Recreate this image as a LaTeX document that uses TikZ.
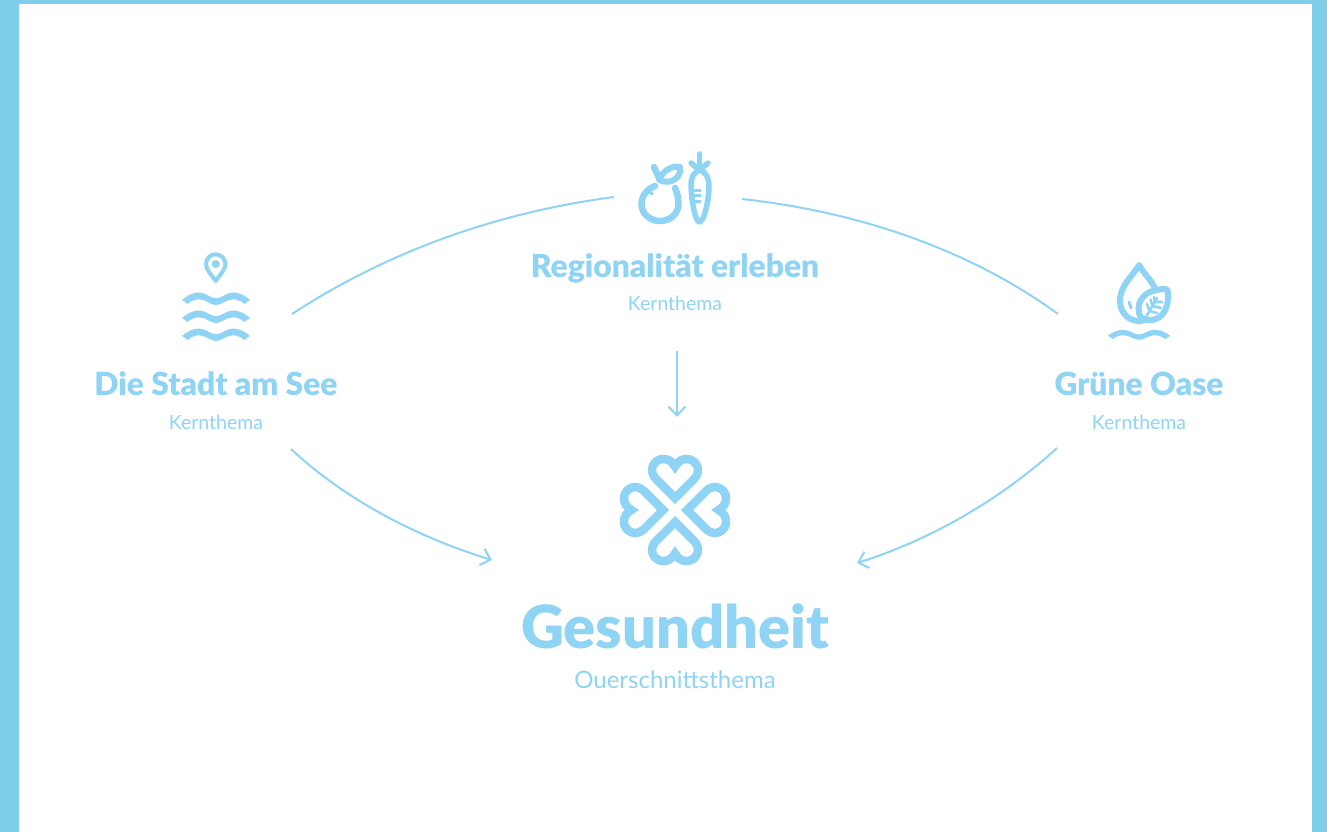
\documentclass[tikz,border=0pt]{standalone}
\usepackage{fontspec}
\usetikzlibrary{arrows.meta}
\setmainfont{Lato}
\newfontfamily\heavy{Lato Black}
\definecolor{frame}{HTML}{7FCEEC}
\definecolor{ink}{HTML}{8FD4F5}
\tikzset{
  title/.style={text=ink,font=\fontsize{31.8}{36}\selectfont\heavy,inner sep=0pt},
  bigtitle/.style={text=ink,font=\fontsize{59.5}{62}\selectfont\heavy,inner sep=0pt},
  sub/.style={text=ink,font=\fontsize{19.5}{22}\selectfont,inner sep=0pt},
  bigsub/.style={text=ink,font=\fontsize{24}{28}\selectfont,inner sep=0pt},
  conn/.style={draw=ink,line width=2pt},
  tip/.style={-{Straight Barb[length=9pt,width=17pt,line width=2pt]}},
  icon/.style={draw=ink,line cap=round,line join=round}
}
\newcommand{\heartpic}[1]{%
 \draw[draw=ink,line join=miter,miter limit=10,line width=8.5pt,shift={(675,510)},rotate=#1]
  (0,-12) -- (-19,-31) .. controls (-27.5,-39.5) and (-21,-51) .. (-12,-51)
  .. controls (-7,-51) and (-3,-49) .. (0,-43.5)
  .. controls (3,-49) and (7,-51) .. (12,-51)
  .. controls (21,-51) and (27.5,-39.5) .. (19,-31) -- cycle;}
\newcommand{\wave}[3]{%
 \fill[ink,shift={(#1,#2)},xscale=#3]
  (-34,1) .. controls (-28,-4) and (-23,-6.5) .. (-17,-6.5)
  .. controls (-10,-6.5) and (-6,-0.7) .. (0,-0.7)
  .. controls (6,-0.7) and (10,-6.5) .. (17,-6.5)
  .. controls (23,-6.5) and (28,-4) .. (34,1)
  .. controls (32,2) and (30,3.5) .. (28.5,5)
  .. controls (25,2) and (21,0.3) .. (17,0.3)
  .. controls (10,0.3) and (6,6) .. (0,6)
  .. controls (-6,6) and (-10,0.3) .. (-17,0.3)
  .. controls (-21,0.3) and (-25,2) .. (-28.5,5)
  .. controls (-30,3.5) and (-32,2) .. (-34,1) -- cycle;}
\begin{document}
\begin{tikzpicture}[x=1pt,y=-1pt]
\useasboundingbox (0,0) rectangle (1327,832);
\fill[frame] (0,0) rectangle (1327,832);
\fill[white] (19,4) rectangle (1312,832);
% named connector ends
\coordinate (tla) at (292,314); \coordinate (tlb) at (614,197);
\coordinate (tra) at (742,199); \coordinate (trb) at (1058,314);
\coordinate (bla) at (291,449); \coordinate (blb) at (492,560);
\coordinate (bra) at (1057,448); \coordinate (brb) at (857,563);
\coordinate (ca) at (677,351); \coordinate (cb) at (677,417);
% texts
\node[title] (see) at (216,384) {Die Stadt am See};
\node[sub] (seek) at (216,422) {Kernthema};
\node[title] (reg) at (675,268) {Regionalität erleben};
\node[sub] (regk) at (675,303) {Kernthema};
\node[title] (oase) at (1139,384) {Grüne Oase};
\node[sub] (oasek) at (1139,422) {Kernthema};
\node[bigtitle] (ges) at (675,626) {Gesundheit};
\node[bigsub] (gesk) at (675,680) {Ouerschnittsthema};
% connectors
\draw[conn] (tla) .. controls (390,250) and (500,212) .. (tlb);
\draw[conn] (tra) .. controls (860,212) and (970,250) .. (trb);
\draw[conn,tip] (bla) .. controls (340,495) and (410,535) .. (blb);
\draw[conn,tip] (bra) .. controls (1000,500) and (930,540) .. (brb);
\draw[conn,tip] (ca) -- (cb);
% hearts
\heartpic{0}\heartpic{90}\heartpic{180}\heartpic{270}
% pin
\draw[icon,line width=4pt] (215.7,281) .. controls (211,274) and (206,270) .. (206,264)
 arc[start angle=180,end angle=360,radius=9.7] .. controls (225.4,270) and (220.4,274) .. cycle;
\fill[ink] (215.7,264) circle (4);
% waves
\wave{216}{299}{1}\wave{216}{317}{1}\wave{216}{335}{1}
% apple
\draw[icon,line width=6.5pt] (655,186) .. controls (647,189) and (641.5,196) .. (641.5,204)
 .. controls (641.5,214) and (650,221) .. (660,221)
 .. controls (670,221) and (678.5,214) .. (678.5,204)
 .. controls (678.5,198) and (677,192) .. (675,188);
\draw[icon,line width=6pt] (659,180) .. controls (662,172) and (671,165) .. (680,167)
 .. controls (682,176) and (672,186) .. (659,180) -- cycle;
\draw[icon,line width=6.5pt] (654,167) -- (659,178);
\draw[icon,line width=3pt] (649,191) -- (652,194);
% carrot
\draw[icon,line width=5.5pt] (700,170) .. controls (693,172) and (691,178) .. (691,186)
 .. controls (691.5,200) and (695,222) .. (699.5,222)
 .. controls (704,222) and (709,200) .. (709,186)
 .. controls (709,178) and (706,172) .. (700,170) -- cycle;
\draw[icon,line width=5.5pt] (699.5,154) -- (699.5,170);
\draw[icon,line width=5.5pt] (691,163) -- (699.5,170) -- (708,163);
\draw[draw=ink,line width=3pt] (694,190) -- (701,190) (694,195.5) -- (701,195.5) (694,201) -- (701,201);
% drop
\draw[icon,line width=6pt] (1139,265) .. controls (1133,276) and (1120,285) .. (1120,301)
 .. controls (1120,312) and (1128,321) .. (1139,321)
 .. controls (1150,321) and (1158,312) .. (1158,301)
 .. controls (1158,285) and (1145,276) .. cycle;
\draw[icon,line width=3pt] (1129,302) -- (1131,308);
% leaf
\draw[icon,line width=6pt,fill=white] (1141,318) .. controls (1134,305) and (1143,293) .. (1153,291)
 .. controls (1160,289) and (1165,288) .. (1167.5,290)
 .. controls (1170,303) and (1165,320) .. (1150,320)
 .. controls (1146,320) and (1144,319) .. (1141,318) -- cycle;
\draw[icon,line width=2.6pt] (1146,317) -- (1157,298)
 (1149.5,311) -- (1147,304) (1152.5,306) -- (1150.5,299.5) (1155,302) -- (1154,297)
 (1149.5,311) -- (1157,313) (1152.5,306) -- (1161,308) (1155,302) -- (1162,302);
% drop wave
\fill[ink,shift={(1139,335)},xscale=0.92,yscale=0.8] (-34,1) .. controls (-28,-4) and (-23,-6.5) .. (-17,-6.5)
  .. controls (-10,-6.5) and (-6,-0.7) .. (0,-0.7)
  .. controls (6,-0.7) and (10,-6.5) .. (17,-6.5)
  .. controls (23,-6.5) and (28,-4) .. (34,1)
  .. controls (32,2) and (30,3.5) .. (28.5,5)
  .. controls (25,2) and (21,0.3) .. (17,0.3)
  .. controls (10,0.3) and (6,6) .. (0,6)
  .. controls (-6,6) and (-10,0.3) .. (-17,0.3)
  .. controls (-21,0.3) and (-25,2) .. (-28.5,5)
  .. controls (-30,3.5) and (-32,2) .. (-34,1) -- cycle;
\end{tikzpicture}
\end{document}
